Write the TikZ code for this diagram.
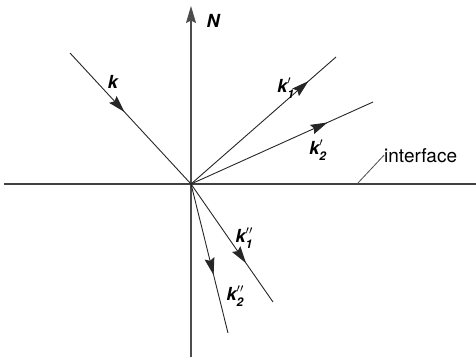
\documentclass[tikz,border=0pt]{standalone}
\usepackage{fontspec}
\setmainfont{TeX Gyre Heros}
\usetikzlibrary{arrows.meta,decorations.markings}
\newcommand\klab[2]{k\makebox[0pt][l]{\raisebox{-0.32em}{\fontsize{12}{12}\selectfont #1}}\raisebox{0.45em}{$\scriptstyle #2$}}
\tikzset{dart/.tip={Stealth[length=17pt,width=10pt,inset=2.5pt]}}
\begin{document}
\begin{tikzpicture}[x=1pt,y=-1pt,
  ray/.style={line width=0.9pt, draw=black!85, postaction={decorate},
    decoration={markings, mark=at position #1 with {\arrow{dart}}}},
  axis/.style={line width=1.1pt, draw=black!70},
  lab/.style={font=\fontsize{18}{18}\selectfont\bfseries\itshape, inner sep=0pt},
  txt/.style={font=\fontsize{19}{19}\selectfont, inner sep=0pt}]
\useasboundingbox (0,0) rectangle (476,357);
\coordinate (O) at (191,184);
\coordinate (L) at (4,184);
\coordinate (R) at (476,184);
\coordinate (B) at (191,357);
\coordinate (T) at (191,6);
\coordinate (K) at (70,53);
\coordinate (K1r) at (336,57);
\coordinate (K2r) at (373,102);
\coordinate (K1t) at (273,302);
\coordinate (K2t) at (228,333);
\coordinate (lead) at (357,184);
% axes
\draw[axis, draw=black!75] (L) -- (R);
\draw[axis, -dart] (B) -- (T);
% rays
\draw[ray=0.45] (K) -- (O);
\draw[ray=0.81] (O) -- (K1r);
\draw[ray=0.75] (O) -- (K2r);
\draw[ray=0.67] (O) -- (K1t);
\draw[ray=0.61] (O) -- (K2t);
% labels
\node[lab] (nN) at (213,21) {N};
\node[lab] (nk) at (113,82) {k};
\node[lab] (nk1r) at (284,88) {\klab{1}{\prime}};
\node[lab] (nk2r) at (316,150) {\klab{2}{\prime}};
\node[lab] (nk1t) at (244,238) {\klab{1}{\prime\prime}};
\node[lab] (nk2t) at (235,296) {\klab{2}{\prime\prime}};
\node[txt, anchor=base west] (ni) at (384,162) {interface};
\draw[line width=0.8pt, draw=black!70] (lead) -- (ni.west);
\end{tikzpicture}
\end{document}
